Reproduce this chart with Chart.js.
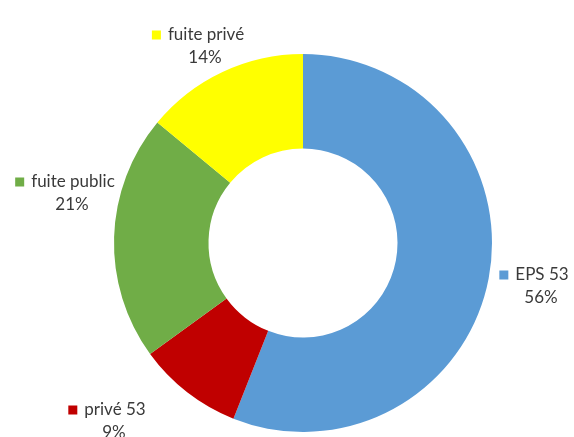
<!DOCTYPE html>
<html>
<head>
<meta charset="utf-8">
<script src="https://cdn.jsdelivr.net/npm/chart.js@4"></script>
<style>
  html, body { margin: 0; padding: 0; background: #fff; }
  #wrap { width: 574px; height: 437px; position: relative; }
</style>
</head>
<body>
<div id="wrap"><canvas id="chart"></canvas></div>
<script>
// Data
const categories = ['EPS 53', 'privé 53', 'fuite public', 'fuite privé'];
const shares = [56, 9, 21, 14];
const sliceColors = ['#5B9BD5', '#C00000', '#70AD47', '#FFFF00'];

// where each label sits (text centre x, first line y)
const labelSpots = [
    { x: 542, y: 275 },
    { x: 115, y: 410 },
    { x: 73, y: 182 },
    { x: 206, y: 35 }
];

const sliceLabels = {
    id: 'sliceLabels',
    afterDatasetsDraw(chart) {
        const ctx = chart.ctx;
        const data = chart.data.datasets[0].data;
        const total = data.reduce((a, b) => a + b, 0);
        ctx.save();
        ctx.font = '17px Lato, "Open Sans", sans-serif';
        ctx.textBaseline = 'middle';
        ctx.textAlign = 'center';
        chart.data.labels.forEach((name, i) => {
            const spot = labelSpots[i];
            const w = ctx.measureText(name).width;
            // little colour key in front of the name
            ctx.fillStyle = sliceColors[i];
            ctx.fillRect(spot.x - w / 2 - 16, spot.y - 4.5, 9, 9);
            ctx.fillStyle = '#3a3a3a';
            ctx.fillText(name, spot.x, spot.y);
            const pct = Math.round(data[i] / total * 100) + '%';
            ctx.fillText(pct, spot.x - 1, spot.y + 23);
        });
        ctx.restore();
    }
};

new Chart(document.getElementById('chart'), {
    type: 'doughnut',
    data: {
        labels: categories,
        datasets: [{
            data: shares,
            backgroundColor: sliceColors,
            borderWidth: 0
        }]
    },
    options: {
        responsive: true,
        maintainAspectRatio: false,
        animation: false,
        cutout: '50%',
        layout: { padding: { top: 54, bottom: 5, left: 114, right: 82 } },
        plugins: {
            legend: { display: false },
            tooltip: { enabled: false }
        }
    },
    plugins: [sliceLabels]
});
</script>
</body>
</html>
